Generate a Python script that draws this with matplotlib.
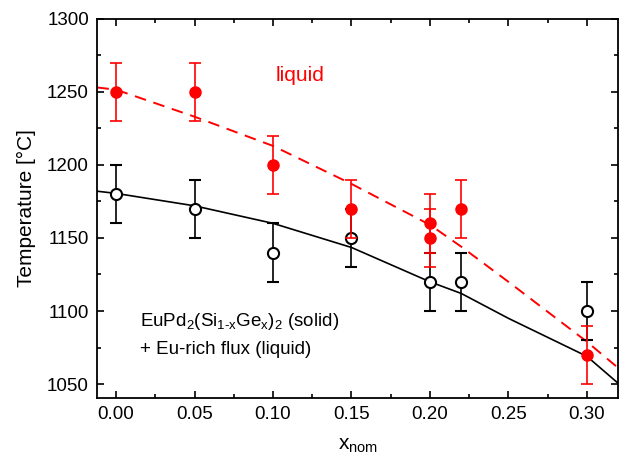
import matplotlib.pyplot as plt

plt.rcParams['font.family'] = ['Liberation Sans', 'DejaVu Sans']
plt.rcParams['mathtext.fontset'] = 'custom'
plt.rcParams['mathtext.rm'] = 'Liberation Sans'
plt.rcParams['mathtext.it'] = 'Liberation Sans'

# measured points
x_liq = [0.00, 0.05, 0.10, 0.15, 0.20, 0.20, 0.22, 0.30]
t_liq = [1250, 1250, 1200, 1170, 1160, 1150, 1170, 1070]
x_sol = [0.00, 0.05, 0.10, 0.15, 0.20, 0.22, 0.30]
t_sol = [1180, 1170, 1140, 1150, 1120, 1120, 1100]
err = 20

# guide curves
x_curve = [-0.012, 0.0, 0.05, 0.10, 0.15, 0.20, 0.22, 0.25, 0.30, 0.32]
t_sol_curve = [1182, 1180.5, 1172, 1160, 1143.5, 1120, 1112, 1095, 1069, 1050.5]
t_liq_curve = [1253, 1251.5, 1233, 1213, 1187, 1159, 1144, 1120, 1079, 1061]

fig, ax = plt.subplots(figsize=(6.4, 4.59), dpi=100)

ax.plot(x_curve, t_sol_curve, color='black', lw=1.2)
ax.plot(x_curve, t_liq_curve, color='red', lw=1.4, ls=(0, (6, 4)))

ax.errorbar(x_sol, t_sol, yerr=err, fmt='o', mfc='white', mec='black', mew=1.5,
            ms=8, color='black', ecolor='black', elinewidth=1.2, capsize=4,
            capthick=1.2, zorder=3)
ax.errorbar(x_liq, t_liq, yerr=err, fmt='o', color='red', ms=8,
            ecolor='red', elinewidth=1.2, capsize=4, capthick=1.2, zorder=4)

ax.text(0.117, 1261.5, 'liquid', color='red', fontsize=15, ha='center', va='center')
ax.text(0.0155, 1092.5, 'EuPd$_2$(Si$_{1\u2010x}$Ge$_x$)$_2$ (solid)', fontsize=13.5,
        va='center')
ax.text(0.0155, 1073.5, '+ Eu-rich flux (liquid)', fontsize=13.5, va='center')

ax.set_xlim(-0.012, 0.32)
ax.set_ylim(1040.5, 1300)
ax.set_xticks([0.00, 0.05, 0.10, 0.15, 0.20, 0.25, 0.30])
ax.set_xticks([0.025, 0.075, 0.125, 0.175, 0.225, 0.275], minor=True)
ax.set_yticks([1050, 1100, 1150, 1200, 1250, 1300])
ax.set_yticks([1075, 1125, 1175, 1225, 1275], minor=True)
ax.tick_params(which='both', direction='in', top=True, right=True, labelsize=13.5, width=1.2)
ax.tick_params(which='major', length=5, pad=6)
ax.tick_params(which='minor', length=3)
for s in ax.spines.values():
    s.set_linewidth(1.3)

ax.set_xlabel(r'x$_{\mathrm{nom}}$', fontsize=15, labelpad=9)
ax.set_ylabel('Temperature [°C]', fontsize=15, labelpad=8)

plt.subplots_adjust(left=0.152, right=0.966, top=0.959, bottom=0.133)
plt.savefig('out.png')
